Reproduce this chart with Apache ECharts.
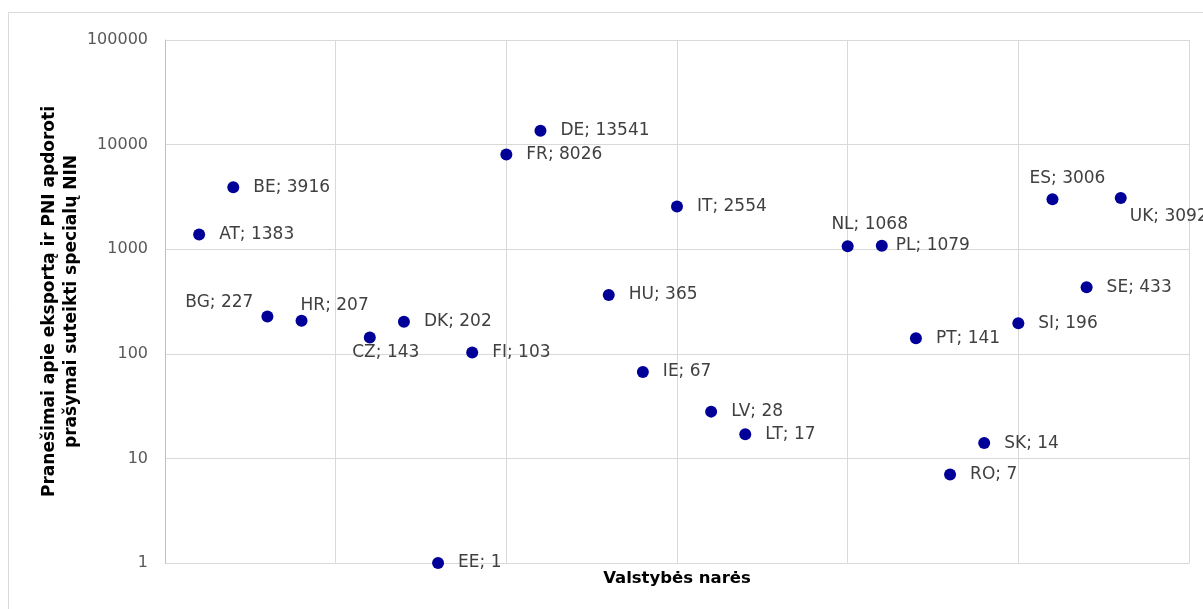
<!DOCTYPE html>
<html>
<head>
<meta charset="utf-8">
<script src="https://cdn.jsdelivr.net/npm/echarts@6/dist/echarts.min.js"></script>
<style>
html,body{margin:0;padding:0;background:#fff;}
#c{width:1203px;height:609px;}
</style>
</head>
<body>
<div id="c"></div>
<script>
// Data
var countries = ['AT','BE','BG','HR','CZ','DK','EE','FI','FR','DE','HU','IE','IT','LV','LT','NL','PL','PT','RO','SK','SI','ES','SE','UK'];
var xPositions = [1,2,3,4,6,7,8,9,10,11,13,14,15,16,17,20,21,22,23,24,25,26,27,28];
var values = [1383,3916,227,207,143,202,1,103,8026,13541,365,67,2554,28,17,1068,1079,141,7,14,196,3006,433,3092];
var yTicks = [1,10,100,1000,10000,100000];

// label placement overrides (styling only)
var labelPlacement = {
  BG: {position:[-8,-8], align:'right', verticalAlign:'middle'},
  HR: {position:[5,-9], align:'left', verticalAlign:'middle'},
  CZ: {position:[22,21], align:'center', verticalAlign:'middle'},
  NL: {position:[28,-16], align:'center', verticalAlign:'middle'},
  ES: {position:[21,-15], align:'center', verticalAlign:'middle'},
  UK: {position:[15,25], align:'left', verticalAlign:'middle'},
  PL: {position:[20,6], align:'left', verticalAlign:'middle'}
};

var data = countries.map(function(c,i){
  var item = {name:c, value:[xPositions[i], values[i]]};
  if (labelPlacement[c]) item.label = labelPlacement[c];
  return item;
});

var chart = echarts.init(document.getElementById('c'), null, {renderer:'canvas'});
chart.setOption({
  animation:false,
  backgroundColor:'#ffffff',
  graphic:[{
    type:'rect', silent:true, z:-10,
    shape:{x:8.5, y:12.5, width:1400, height:800},
    style:{fill:'none', stroke:'#d9d9d9', lineWidth:1}
  }],
  grid:{left:165, right:14, top:40, bottom:46},
  xAxis:{
    type:'value', min:0, max:30, interval:5,
    name:'Valstybės narės', nameLocation:'middle', nameGap:7,
    nameTextStyle:{fontFamily:'DejaVu Sans', fontWeight:'bold', fontSize:16.5, color:'#000', verticalAlign:'top'},
    axisLine:{show:true, lineStyle:{color:'#d9d9d9', width:1}},
    axisTick:{show:false},
    axisLabel:{show:false},
    splitLine:{show:true, lineStyle:{color:'#d9d9d9', width:1}}
  },
  yAxis:{
    type:'log', logBase:10, min:1, max:100000,
    name:'Pranešimai apie eksportą ir PNI apdoroti\nprašymai suteikti specialų NIN',
    nameLocation:'middle', nameGap:82, nameRotate:90, nameMoveOverlap:false,
    nameTextStyle:{fontFamily:'DejaVu Sans', fontWeight:'bold', fontSize:17, color:'#000', lineHeight:22, align:'center'},
    axisLine:{show:true, lineStyle:{color:'#bfbfbf', width:1}},
    axisTick:{show:false},
    axisLabel:{fontFamily:'DejaVu Sans', fontSize:16, color:'#595959', margin:17,
      formatter:function(v){return String(Math.round(v));}},
    splitLine:{show:true, lineStyle:{color:'#d9d9d9', width:1}}
  },
  series:[{
    type:'scatter',
    symbol:'circle', symbolSize:12,
    itemStyle:{color:'#000099', opacity:1},
    data:data,
    label:{
      show:true, position:'right', distance:14,
      fontFamily:'DejaVu Sans', fontSize:17, color:'#404040',
      formatter:function(p){return p.name + '; ' + p.value[1];}
    },
    labelLayout:{hideOverlap:false}
  }]
});
</script>
</body>
</html>
